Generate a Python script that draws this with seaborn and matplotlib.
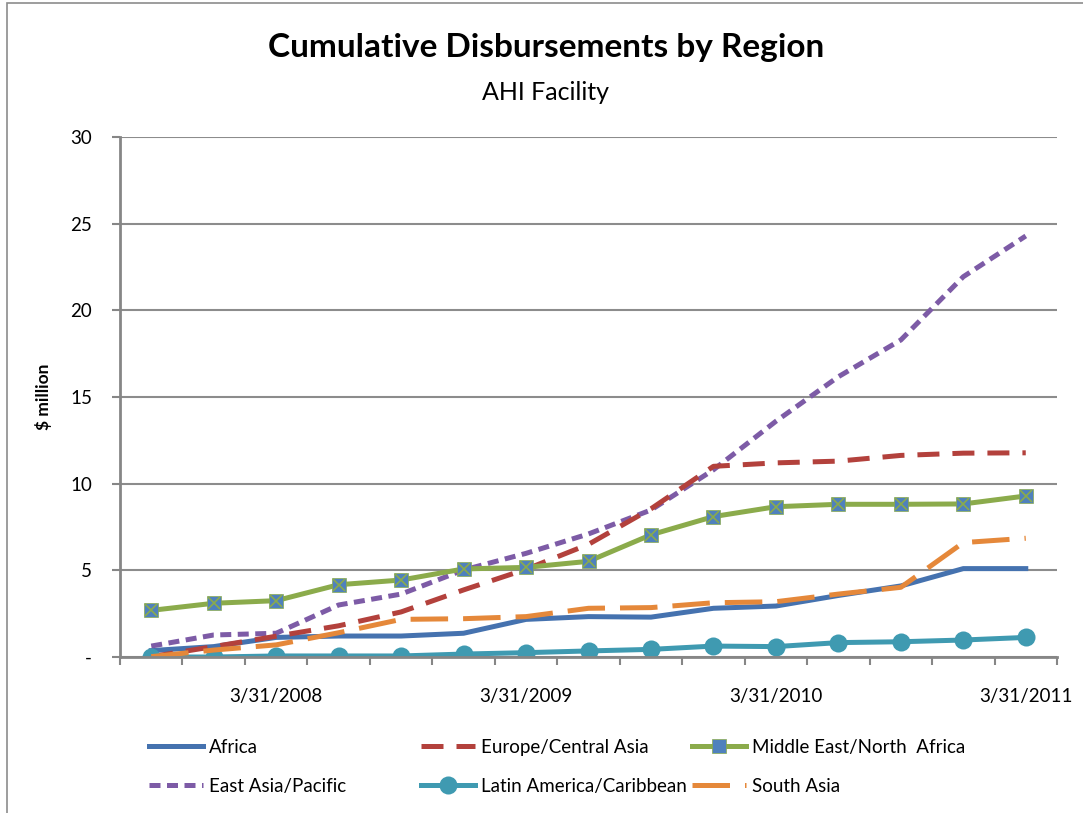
import matplotlib
matplotlib.use("Agg")
import matplotlib.pyplot as plt
import matplotlib.patches as mpatches
import numpy as np
import pandas as pd
import seaborn as sns

# quarter ends, 9/30/2007 .. 3/31/2011
quarters = ["9/30/2007", "12/31/2007", "3/31/2008", "6/30/2008", "9/30/2008",
            "12/31/2008", "3/31/2009", "6/30/2009", "9/30/2009", "12/31/2009",
            "3/31/2010", "6/30/2010", "9/30/2010", "12/31/2010", "3/31/2011"]

africa = [0.37, 0.6, 1.13, 1.21, 1.21, 1.37, 2.17, 2.33, 2.3, 2.81, 2.94, 3.55, 4.1, 5.1, 5.1]
europe = [0.02, 0.6, 1.2, 1.8, 2.6, 3.87, 5.06, 6.5, 8.55, 11.0, 11.2, 11.3, 11.63, 11.76, 11.78]
mena = [2.69, 3.1, 3.25, 4.17, 4.44, 5.08, 5.17, 5.52, 7.05, 8.1, 8.67, 8.81, 8.81, 8.83, 9.29]
east_asia = [0.63, 1.27, 1.37, 3.0, 3.63, 5.02, 5.98, 7.1, 8.48, 10.8, 13.6, 16.17, 18.29, 21.94, 24.29]
latin = [0.0, 0.0, 0.06, 0.06, 0.06, 0.17, 0.25, 0.35, 0.44, 0.63, 0.6, 0.83, 0.88, 0.98, 1.13]
south_asia = [0.02, 0.4, 0.7, 1.4, 2.17, 2.21, 2.33, 2.81, 2.85, 3.13, 3.19, 3.63, 4.02, 6.6, 6.85]

plt.rcParams["font.family"] = ["Lato", "DejaVu Sans"]

fig = plt.figure(figsize=(10.83, 8.13), dpi=100)
ax = fig.add_axes([120 / 1083, 1 - 657 / 813, 937 / 1083, 520 / 813])

pos = np.arange(len(quarters))
df = pd.DataFrame({"pos": pos, "Africa": africa, "Europe/Central Asia": europe,
                   "Middle East/North  Africa": mena, "East Asia/Pacific": east_asia,
                   "Latin America/Caribbean": latin, "South Asia": south_asia})

lw = 3.6
sns.lineplot(data=df, x="pos", y="Africa", ax=ax, color="#4572AF", lw=lw,
             label="Africa")
sns.lineplot(data=df, x="pos", y="East Asia/Pacific", ax=ax, color="#7D5BA6", lw=lw,
             dashes=(2.2, 1.3), label="East Asia/Pacific")
sns.lineplot(data=df, x="pos", y="Europe/Central Asia", ax=ax, color="#B3413C", lw=lw,
             dashes=(4.4, 2.6), label="Europe/Central Asia")
sns.lineplot(data=df, x="pos", y="Latin America/Caribbean", ax=ax, color="#3F9AB1", lw=lw,
             marker="o", markersize=13, markeredgewidth=0, label="Latin America/Caribbean")
sns.lineplot(data=df, x="pos", y="Middle East/North  Africa", ax=ax, color="#8BAB4B", lw=lw,
             marker="s", markersize=10, markerfacecolor="#4F81BD", markeredgecolor="#8BAB4B",
             markeredgewidth=0.5, label="Middle East/North  Africa")
ax.plot(pos, mena, ls="none", marker="x", markersize=8, color="#8BAB4B", mew=1.2)
sns.lineplot(data=df, x="pos", y="South Asia", ax=ax, color="#E5883A", lw=lw,
             dashes=(7.5, 3.0), label="South Asia")

ax.set_xlim(-0.5, len(quarters) - 0.5)
ax.set_ylim(0, 30)
ax.set_yticks(range(0, 31, 5))
ax.set_yticklabels(["-" if v == 0 else str(v) for v in range(0, 31, 5)], fontsize=13.5)
ax.set_xticks(pos[2::4])
ax.set_xticklabels([quarters[i] for i in pos[2::4]], fontsize=13.5)
ax.set_xticks(np.arange(-0.5, len(quarters), 1), minor=True)
ax.tick_params(axis="x", which="major", length=0, pad=22)
ax.tick_params(axis="x", which="minor", length=6, color="#868686", width=1.5)
ax.tick_params(axis="y", length=6, color="#868686", width=1.5, pad=14)
ax.grid(axis="y", color="#8C8C8C", lw=1.5)
ax.set_axisbelow(True)
for s in ["top", "right"]:
    ax.spines[s].set_visible(False)
for s in ["left", "bottom"]:
    ax.spines[s].set_color("#868686")
    ax.spines[s].set_linewidth(2)
ax.set_xlabel("")
ax.set_ylabel("$ million", fontsize=12.5, fontweight="bold", labelpad=13)

# legend laid out in three fixed columns like the original
handles, labels = ax.get_legend_handles_labels()
hl = dict(zip(labels, handles))
ax.get_legend().remove()
columns = [(["Africa", "East Asia/Pacific"], 149),
           (["Europe/Central Asia", "Latin America/Caribbean"], 421),
           (["Middle East/North  Africa", "South Asia"], 692)]
for names, x0 in columns:
    fig.legend([hl[n] for n in names], names, loc="upper left",
               bbox_to_anchor=(x0 / 1083, 1 - 739 / 813),
               frameon=False, fontsize=13.5, handlelength=2.9, handletextpad=0.3,
               labelspacing=1.15, borderpad=0, borderaxespad=0)

fig.text(0.5 * (265 + 828) / 1083, 1 - 47 / 813, "Cumulative Disbursements by Region",
         ha="center", va="center", fontsize=24, fontweight="bold")
fig.text(546 / 1083, 1 - 92 / 813, "AHI Facility", ha="center", va="center", fontsize=18)

# chart frame edge
fig.patches.append(mpatches.Rectangle((7 / 1083, -0.1), 1.2, 1.1 - 3 / 813, transform=fig.transFigure,
                                      fill=False, edgecolor="#8C8C8C", lw=1.2))

fig.savefig("out.png", dpi=100)
